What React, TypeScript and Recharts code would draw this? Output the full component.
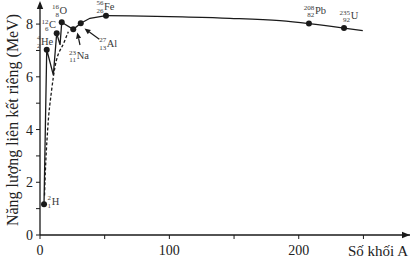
import React from 'react';
import { ComposedChart, Line, Scatter, XAxis, YAxis } from 'recharts';

// nuclides marked on the curve (position on the A axis as drawn in the figure)
const nuclideSymbols = ['H', 'He', 'C', 'O', 'Na', 'Al', 'Fe', 'Pb', 'U'];
const nuclideMass = [2, 4, 12, 16, 23, 27, 56, 208, 235];
const nuclideCharge = [1, 2, 6, 8, 11, 13, 26, 82, 92];
const nuclideA = [3.1, 5.2, 12.9, 16.8, 25.7, 31.5, 51, 207.9, 235];
const nuclideEnergy = [1.17, 7.03, 7.65, 8.07, 7.8, 8.03, 8.32, 8.02, 7.85];

// solid curve, light nuclei part (sharp corners)
const lightA = [3.1, 5.2, 10.3, 12.9, 15.5, 16.8, 25.7, 31.5, 38.6, 51];
const lightEnergy = [1.17, 7.03, 6.07, 7.65, 7.21, 8.07, 7.8, 8.03, 8.22, 8.32];

// solid curve, heavy nuclei part (smooth)
const heavyA = [51, 69.6, 110, 146.8, 185.5, 207.9, 235, 249.5];
const heavyEnergy = [8.32, 8.31, 8.27, 8.22, 8.13, 8.02, 7.85, 7.75];

// dashed curve
const dashedA = [3.5, 3.9, 5.95, 9.0, 11.6, 18.8, 21.9];
const dashedEnergy = [1.5, 2.09, 4.02, 5.5, 6.38, 7.33, 7.71];

const xTicks = [0, 50, 100, 150, 200, 250];
const xLabeled = [0, 100, 200];
const yTicks = [0, 1, 2, 3, 4, 5, 6, 7, 8];
const yLabeled = [0, 2, 4, 6, 8];

const nuclides = nuclideSymbols.map((sym, i) => ({
  sym,
  mass: nuclideMass[i],
  z: nuclideCharge[i],
  a: nuclideA[i],
  v: nuclideEnergy[i],
}));
const lightCurve = lightA.map((a, i) => ({ a, v: lightEnergy[i] }));
const heavyCurve = heavyA.map((a, i) => ({ a, v: heavyEnergy[i] }));
const dashedCurve = dashedA.map((a, i) => ({ a, v: dashedEnergy[i] }));

// where each label sits relative to its dot (left edge of symbol, middle)
const labelOffset: Record<string, [number, number]> = {
  H: [7.7, -1.7],
  He: [-5.7, -7],
  C: [-7.7, -7.3],
  O: [-2.2, -10.6],
  Na: [3.4, 27.7],
  Al: [26, 21],
  Fe: [-2, -8],
  Pb: [6, -11.7],
  U: [6.7, -11.3],
};

const FONT = '"Liberation Serif", "DejaVu Serif", serif';
const INK = '#1a1a1a';
const LABEL = '#3a3a3a';

function NuclideDot(props: any) {
  const { cx, cy, payload } = props;
  const [dx, dy] = labelOffset[payload.sym];
  const lx = cx + dx;
  const ly = cy + dy;
  return (
    <g fontFamily={FONT}>
      <circle cx={cx} cy={cy} r={3} fill={INK} stroke="none" />
      <text x={lx - 0.6} y={ly - 3.8} fontSize={7} fill={LABEL} stroke="none" textAnchor="end" dominantBaseline="middle">
        {payload.mass}
      </text>
      <text x={lx - 0.6} y={ly + 3.8} fontSize={7} fill={LABEL} stroke="none" textAnchor="end" dominantBaseline="middle">
        {payload.z}
      </text>
      <text x={lx} y={ly} fontSize={10.5} fill={LABEL} stroke="none" dominantBaseline="middle">
        {payload.sym}
      </text>
    </g>
  );
}

function Arrow({ x1, y1, x2, y2, head = 6, half = 2.6 }: any) {
  const ang = Math.atan2(y2 - y1, x2 - x1);
  const bx = x2 - head * Math.cos(ang);
  const by = y2 - head * Math.sin(ang);
  const px = -Math.sin(ang) * half;
  const py = Math.cos(ang) * half;
  return (
    <g>
      <line x1={x1} y1={y1} x2={bx} y2={by} stroke={INK} strokeWidth={1.2} />
      <polygon points={`${x2},${y2} ${bx + px},${by + py} ${bx - px},${by - py}`} fill={INK} />
    </g>
  );
}

export default function App() {
  const tickStyle = { fontFamily: FONT, fontSize: 14, fill: '#222' };
  return (
    <div style={{ position: 'relative', width: 413, height: 259 }}>
      <style>{'body{margin:0}'}</style>
      <ComposedChart width={413} height={259} margin={{ top: 3, right: 3, bottom: 0, left: 0 }}>
        <XAxis
          type="number"
          dataKey="a"
          domain={[0, 286]}
          ticks={xTicks}
          interval={0}
          tickFormatter={(t: number) => (xLabeled.includes(t) ? String(t) : '')}
          height={24}
          tickSize={4}
          tickMargin={6}
          tick={tickStyle}
          axisLine={{ stroke: INK, strokeWidth: 1.3 }}
          tickLine={{ stroke: INK }}
        />
        <YAxis
          type="number"
          domain={[0, 8.8]}
          ticks={yTicks}
          interval={0}
          tickFormatter={(t: number) => (yLabeled.includes(t) ? String(t) : '')}
          width={40}
          tickSize={4}
          tickMargin={3}
          tick={tickStyle}
          axisLine={{ stroke: INK, strokeWidth: 1.3 }}
          tickLine={{ stroke: INK }}
        />
        <Line
          data={dashedCurve}
          dataKey="v"
          type="monotone"
          stroke={INK}
          strokeWidth={1.3}
          strokeDasharray="3 2"
          dot={false}
          isAnimationActive={false}
        />
        <Line
          data={lightCurve}
          dataKey="v"
          type="linear"
          stroke={INK}
          strokeWidth={1.3}
          dot={false}
          isAnimationActive={false}
        />
        <Line
          data={heavyCurve}
          dataKey="v"
          type="monotone"
          stroke={INK}
          strokeWidth={1.3}
          dot={false}
          isAnimationActive={false}
        />
        <Scatter data={nuclides} dataKey="v" shape={NuclideDot} isAnimationActive={false} />
      </ComposedChart>
      <svg
        width={413}
        height={259}
        style={{ position: 'absolute', left: 0, top: 0, pointerEvents: 'none' }}
      >
        {/* axis arrow heads */}
        <polygon points="410,235 402,231.8 402,238.2" fill={INK} />
        <polygon points="40,1 36.8,9 43.2,9" fill={INK} />
        {/* pointers to Na and Al */}
        <Arrow x1={80} y1={45} x2={77.3} y2={32.5} />
        <Arrow x1={99.3} y1={39.3} x2={84.5} y2={28.5} />
        <text
          x={14}
          y={120}
          transform="rotate(-90 14 120)"
          textAnchor="middle"
          dominantBaseline="middle"
          fontFamily={FONT}
          fontSize={16}
          fill="#222"
        >
          Năng lượng liên kết riêng (MeV)
        </text>
        <text x={408} y={256} textAnchor="end" fontFamily={FONT} fontSize={15} fill="#222">
          Số khối A
        </text>
      </svg>
    </div>
  );
}
